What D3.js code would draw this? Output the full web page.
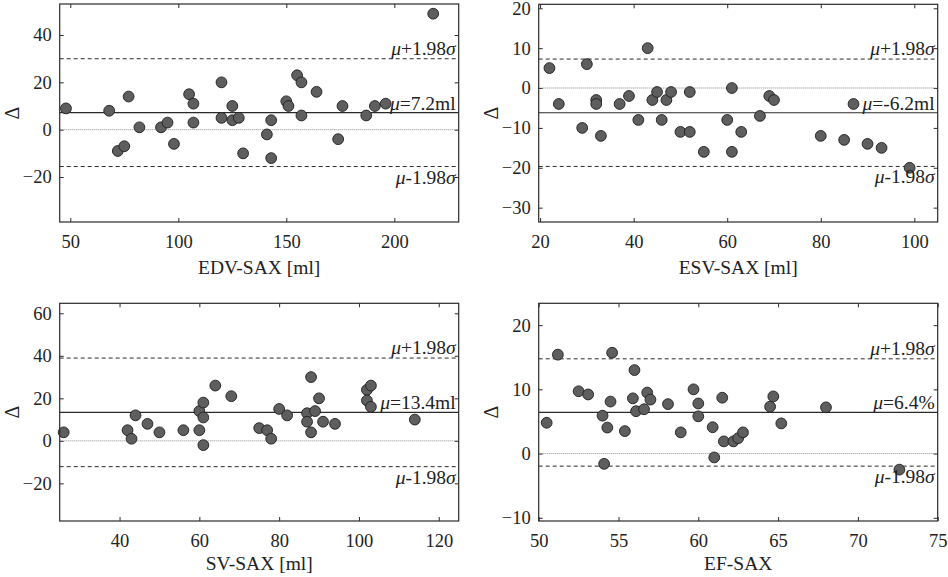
<!DOCTYPE html>
<html>
<head>
<meta charset="utf-8">
<script src="https://cdn.jsdelivr.net/npm/d3@7"></script>
<style>
  body { margin: 0; background: #fff; }
  svg text { font-family: "Times New Roman", Times, "Liberation Serif", "DejaVu Serif", serif !important; fill: #222; }
</style>
</head>
<body>
<svg id="chart" width="948" height="577"></svg>
<script>
// ——— DATA ——————————————————————————————————————————————————————————
const edvX = [48, 68, 72, 75, 77, 82, 92, 95, 98, 105, 107, 107, 120, 120, 125, 125, 128, 130,
  141, 143, 143, 150, 151, 155, 157, 157, 164, 174, 176, 187, 191, 196, 218];
const edvY = [9, 8, -9, -7, 14, 1, 1, 3, -6, 15, 11, 3, 20, 5, 10, 4, 5, -10,
  -2, 4, -12, 12, 10, 23, 20, 6, 16, -4, 10, 6, 10, 11, 49];

const esvX = [22, 24, 29, 30, 32, 32, 33, 37, 39, 41, 43, 44, 45, 46, 47, 48, 50, 52, 52, 55,
  60, 61, 61, 63, 67, 69, 70, 80, 85, 87, 90, 93, 99];
const esvY = [5, -4, -10, 6, -3, -4, -12, -4, -2, -8, 10, -3, -1, -8, -3, -1, -11, -1, -11, -16,
  -8, 0, -16, -11, -7, -2, -3, -12, -13, -4, -14, -15, -20];

const svX = [26, 42, 43, 44, 47, 50, 56, 60, 60, 61, 61, 61, 64, 68, 75, 77, 78, 80, 82,
  87, 87, 88, 88, 89, 90, 91, 94, 102, 103, 102, 103, 114];
const svY = [4, 5, 1, 12, 8, 4, 5, 14, 5, 18, 11, -2, 26, 21, 6, 5, 1, 15, 12,
  13, 9, 30, 4, 14, 20, 9, 8, 24, 26, 19, 16, 10];

const efX = [50.5, 51.2, 52.5, 53.1, 54, 54.1, 54.3, 54.5, 54.6, 55.4, 56, 55.9, 56.1, 56.6, 56.8,
  57, 58.1, 58.9, 59.7, 60, 60, 60.9, 61, 61.5, 61.6, 62.2, 62.5, 62.8, 64.5, 64.7, 65.2, 68, 72.6];
const efY = [4.8, 15.4, 9.7, 9.2, 5.9, -1.6, 4.05, 8.1, 15.7, 3.5, 13, 8.6, 6.6, 6.9, 9.5,
  8.4, 7.7, 3.3, 10, 7.8, 5.8, 4.1, -0.6, 8.7, 1.9, 1.9, 2.4, 3.3, 7.3, 8.9, 4.7, 7.2, -2.5];

const xLabels = ["EDV-SAX [ml]", "ESV-SAX [ml]", "SV-SAX [ml]", "EF-SAX"];
const meanLabels = ["7.2ml", "-6.2ml", "13.4ml", "6.4%"];
const means = [7.2, -6.2, 13.4, 6.4];
const sigmas = [11.5, 6.8, 12.9, 4.22];
const xTicks = [[50, 100, 150, 200], [20, 40, 60, 80, 100], [40, 60, 80, 100, 120], [50, 55, 60, 65, 70, 75]];
const yTicks = [[40, 20, 0, -20], [20, 10, 0, -10, -20, -30], [60, 40, 20, 0, -20], [20, 10, 0, -10]];
const xDomains = [[45.1, 229.8], [19.7, 105], [25, 125], [50, 75]];
const yDomains = [[-39, 53.1], [-33.6, 21], [-37.7, 64.7], [-10.5, 23.4]];

// ——— LAYOUT ————————————————————————————————————————————————————————
const boxes = [
  { x0: 59.7, x1: 458.7, y0: 4, y1: 222, lab: 52 },
  { x0: 538.7, x1: 937.7, y0: 4.3, y1: 222, lab: 52 },
  { x0: 59.7, x1: 458.7, y0: 303.3, y1: 521, lab: 49 },
  { x0: 538.7, x1: 937.7, y0: 303.3, y1: 521, lab: 49 }
];
const tickFont = 18.5;
const fontSize = 19.5;
const ink = "#2a2a2a";

const svg = d3.select("#chart");

function drawPanel(i, xs, ys) {
  const b = boxes[i];
  const g = svg.append("g");

  const xScale = d3.scaleLinear().domain(xDomains[i]).range([b.x0, b.x1]);
  const yScale = d3.scaleLinear().domain(yDomains[i]).range([b.y1, b.y0]);

  // ——— AXES ———————————————————————————
  const bottom = g.append("g")
    .attr("transform", `translate(0,${b.y1})`)
    .call(d3.axisBottom(xScale).tickValues(xTicks[i]).tickSizeInner(-4).tickSizeOuter(0).tickPadding(13));
  const left = g.append("g")
    .attr("transform", `translate(${b.x0},0)`)
    .call(d3.axisLeft(yScale).tickValues(yTicks[i]).tickSizeInner(-4).tickSizeOuter(0).tickPadding(8));
  const top = g.append("g")
    .attr("transform", `translate(0,${b.y0})`)
    .call(d3.axisTop(xScale).tickValues(xTicks[i]).tickSizeInner(-4).tickSizeOuter(0).tickFormat(""));
  const right = g.append("g")
    .attr("transform", `translate(${b.x1},0)`)
    .call(d3.axisRight(yScale).tickValues(yTicks[i]).tickSizeInner(-4).tickSizeOuter(0).tickFormat(""));

  [bottom, left, top, right].forEach(a => {
    a.attr("font-family", null).attr("font-size", null);
    a.select(".domain").remove();
    a.selectAll("line").attr("stroke", ink);
    a.selectAll("text")
      .style("font-size", tickFont + "px")
      .attr("fill", "#222");
  });

  // ——— REFERENCE LINES ————————————————
  const m = means[i], s = sigmas[i];
  const hline = (v) => g.append("line")
    .attr("x1", b.x0).attr("x2", b.x1)
    .attr("y1", yScale(v)).attr("y2", yScale(v));

  hline(0).attr("stroke", "#888").attr("stroke-width", 1).attr("stroke-dasharray", "1,1");
  hline(m + 1.98 * s).attr("stroke", ink).attr("stroke-width", 1).attr("stroke-dasharray", "4,3");
  hline(m - 1.98 * s).attr("stroke", ink).attr("stroke-width", 1).attr("stroke-dasharray", "4,3");
  hline(m).attr("stroke", ink).attr("stroke-width", 1.2);

  // ——— POINTS ——————————————————————————
  const pts = xs.map((x, k) => ({ x, y: ys[k] }));
  g.selectAll("circle.pt")
    .data(pts)
    .enter()
    .append("circle")
    .attr("class", "pt")
    .attr("cx", d => xScale(d.x))
    .attr("cy", d => yScale(d.y))
    .attr("r", 5.4)
    .attr("fill", "#5e5e5e")
    .attr("stroke", "#1e1e1e")
    .attr("stroke-width", 0.9);

  // box
  g.append("rect")
    .attr("x", b.x0).attr("y", b.y0)
    .attr("width", b.x1 - b.x0).attr("height", b.y1 - b.y0)
    .attr("fill", "none").attr("stroke", ink).attr("stroke-width", 1.2);

  // ——— LINE LABELS ————————————————————
  const lab = (y, parts) => {
    const t = g.append("text")
      .attr("x", b.x1 - 3).attr("y", y)
      .attr("text-anchor", "end")
      .style("font-size", fontSize + "px");
    parts.forEach(([str, it]) => {
      t.append("tspan").style("font-style", it ? "italic" : "normal").text(str);
    });
  };
  lab(yScale(m + 1.98 * s) - 4, [["μ", 1], ["+1.98", 0], ["σ", 1]]);
  lab(yScale(m) - 3, [["μ", 1], ["=" + meanLabels[i], 0]]);
  lab(yScale(m - 1.98 * s) + 17, [["μ", 1], ["-1.98", 0], ["σ", 1]]);

  // ——— AXIS TITLES ————————————————————
  g.append("text")
    .attr("x", (b.x0 + b.x1) / 2)
    .attr("y", b.y1 + b.lab)
    .attr("text-anchor", "middle")
    .style("font-size", fontSize + "px")
    .text(xLabels[i]);

  // delta, rotated; baseline sits at x0-41
  g.append("text")
    .attr("transform", `translate(${b.x0 - 41},${(b.y0 + b.y1) / 2}) rotate(-90)`)
    .attr("text-anchor", "middle")
    .style("font-size", "20px")
    .text("Δ");
}

drawPanel(0, edvX, edvY);
drawPanel(1, esvX, esvY);
drawPanel(2, svX, svY);
drawPanel(3, efX, efY);
</script>
</body>
</html>
